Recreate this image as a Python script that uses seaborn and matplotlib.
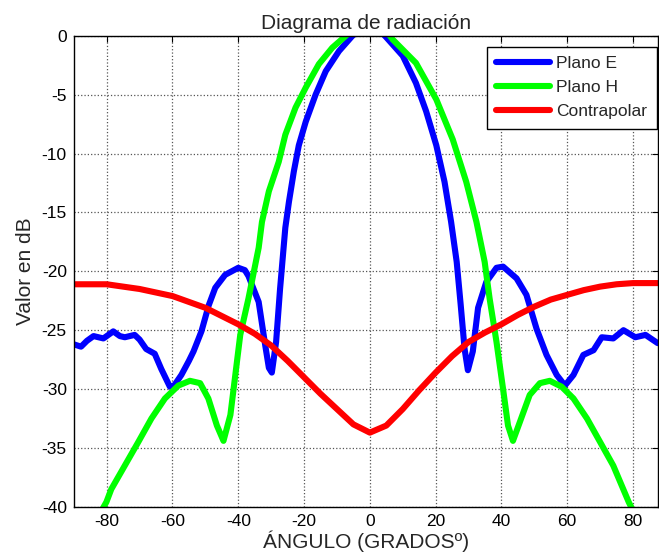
import numpy as np
import pandas as pd
import matplotlib
matplotlib.use("Agg")
import matplotlib.pyplot as plt
import seaborn as sns
from matplotlib.lines import Line2D

# ---- data ----
e_x = [-90, -87.8, -86, -84, -81, -78, -76, -74.5, -71.5, -70, -68, -65.4, -63.4, -60.8, -59.5,
       -57.3, -55, -53.6, -51.2, -49, -47, -44, -40, -38, -36.9, -33.8, -31.8, -30.7, -29.8,
       -28.5, -27.3, -25.7, -24.6, -23.1, -21.6, -19.5, -16.5, -13.4, -9.4, -5.3, -2.5, 0,
       2.5, 4.9, 10, 14, 17.1, 20.2, 22.7, 24.7, 26.4, 27.6, 28.8, 29.8, 31.3, 32.9, 35.4,
       38.5, 40.5, 44.6, 47.6, 50.7, 53.7, 56.8, 59.3, 61.9, 64.9, 68, 70.5, 74, 77.1, 80.7,
       83.8, 87.5]
e_y = [-26.2, -26.4, -25.9, -25.5, -25.7, -25.1, -25.5, -25.6, -25.4, -25.8, -26.6, -27.0, -28.3,
       -29.8, -29.7, -28.8, -27.6, -26.8, -25.1, -22.9, -21.4, -20.3, -19.7, -19.9, -20.4, -22.6,
       -26.3, -28.2, -28.6, -26.0, -21.5, -16.3, -14.1, -11.5, -9.3, -7.3, -5.0, -3.0, -1.3, 0.0,
       0.6, 0.8, 0.6, -0.1, -1.7, -4.0, -6.4, -9.3, -12.4, -15.8, -19.2, -22.8, -26.6, -28.4,
       -26.8, -23.1, -20.9, -19.7, -19.6, -20.6, -22.0, -24.9, -27.1, -28.8, -29.7, -28.8, -27.1,
       -26.7, -25.6, -25.7, -25.0, -25.6, -25.4, -26.1]

h_x = [-90, -85, -80.1, -78.6, -74.5, -70.4, -66.4, -62.3, -58.2, -54.7, -51.6, -49.1, -46.5,
       -44.5, -42.4, -40.9, -39.4, -36.9, -33.8, -32.8, -30.7, -27.7, -25.7, -22.6, -19.5, -15.5,
       -11.4, -7.3, -4, 0, 4, 6.9, 14, 20.2, 25.2, 29.3, 32.4, 34.9, 36.4, 38.5, 40.5, 42,
       43.5, 45.6, 48.6, 51.7, 54.7, 58.3, 61.9, 66, 70, 74, 78.7, 83, 87.5]
h_y = [-44.5, -42.0, -39.6, -38.5, -36.5, -34.5, -32.5, -30.8, -29.7, -29.3, -29.5, -30.8, -33.1,
       -34.4, -32.2, -28.8, -25.4, -22.3, -18.0, -15.8, -13.2, -10.7, -8.4, -6.1, -4.4, -2.4,
       -1.0, 0.0, 0.8, 1.2, 0.8, -0.3, -2.3, -5.4, -8.8, -12.4, -15.8, -19.2, -22.3, -26.0,
       -30.0, -33.1, -34.4, -32.8, -30.5, -29.5, -29.3, -29.8, -30.8, -32.5, -34.5, -36.5,
       -39.6, -42.0, -44.5]

c_x = [-90, -85, -80, -75, -70, -65, -60, -55, -50, -45, -40, -35, -30, -25, -20, -15, -10, -5,
       0, 5, 10, 15, 20, 25, 30, 35, 40, 45, 50, 55, 60, 65, 70, 75, 80, 87.5]
c_y = [-21.1, -21.1, -21.1, -21.3, -21.5, -21.8, -22.1, -22.6, -23.1, -23.8, -24.5, -25.3, -26.3,
       -27.6, -29.0, -30.4, -31.7, -33.0, -33.7, -33.1, -31.7, -30.1, -28.6, -27.2, -26.0, -25.2,
       -24.5, -23.7, -23.0, -22.4, -22.0, -21.6, -21.3, -21.1, -21.0, -21.0]

labels = ["Plano E", "Plano H", "Contrapolar"]
colors = ["#0000ff", "#00ff00", "#ff0000"]

x_ticks = [-80, -60, -40, -20, 0, 20, 40, 60, 80]
y_ticks = [-40, -35, -30, -25, -20, -15, -10, -5, 0]

df = pd.concat([
    pd.DataFrame({"ang": e_x, "val": e_y, "serie": labels[0]}),
    pd.DataFrame({"ang": h_x, "val": h_y, "serie": labels[1]}),
    pd.DataFrame({"ang": c_x, "val": c_y, "serie": labels[2]}),
], ignore_index=True)

sns.set_style("white")
plt.rcParams["font.family"] = ["Liberation Sans", "DejaVu Sans"]
plt.rcParams["axes.unicode_minus"] = False

fig = plt.figure(figsize=(6.59, 5.6), dpi=100)
ax = fig.add_axes([0.112, 0.095, 0.886, 0.841])

sns.lineplot(data=df, x="ang", y="val", hue="serie", palette=dict(zip(labels, colors)),
             estimator=None, sort=True, linewidth=4.4, ax=ax, legend=False)

ax.set_xlim(-90, 87.5)
ax.set_ylim(-40, 0)
ax.set_xticks(x_ticks)
ax.set_yticks(y_ticks)
ax.set_xticklabels([str(t) for t in x_ticks])
ax.set_yticklabels([str(t) for t in y_ticks])
ax.grid(True, linestyle=":", color="#555555", linewidth=0.9)
ax.tick_params(direction="in", length=4, width=0.8, top=True, right=True,
               labelsize=12.5, colors="black", pad=5)
for s in ax.spines.values():
    s.set_visible(True)
    s.set_color("black")
    s.set_linewidth(1.0)

ax.set_xlabel("ÁNGULO (GRADOSº)", fontsize=15, labelpad=1)
ax.set_ylabel("Valor en dB", fontsize=15, labelpad=5)
ax.set_title("Diagrama de radiación", fontsize=15, pad=5)

handles = [Line2D([0], [0], color=c, linewidth=4.4) for c in colors]
leg = ax.legend(handles, labels, loc="upper right", bbox_to_anchor=(0.9985, 0.977),
                borderaxespad=0, fontsize=12.5, frameon=True, fancybox=False,
                edgecolor="black", framealpha=1, handlelength=3.1,
                labelspacing=0.5, handletextpad=0.35, borderpad=0.55)
leg.get_frame().set_linewidth(1.0)

fig.savefig("out.png", dpi=100)
